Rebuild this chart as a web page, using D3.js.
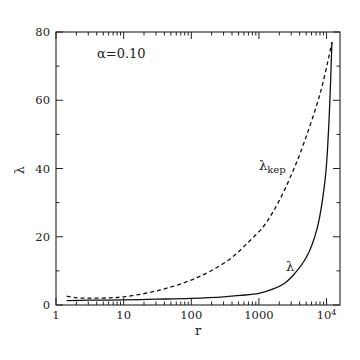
<!DOCTYPE html>
<meta charset="utf-8">
<style>
body { margin: 0; background: #fff; }
text { font-family: "DejaVu Serif", serif; fill: #222; }
.frame { fill: none; stroke: #222; stroke-width: 1.1px; }
</style>
<svg width="360" height="360"></svg>
<script src="https://d3js.org/d3.v7.min.js"></script>
<script>

// values
var rLam = [1.44, 3, 10, 30, 100, 300, 528, 1000, 1630, 2400, 3240, 5100, 7160, 9500, 10700, 12000];
var lam  = [1.26, 1.4, 1.5, 1.7, 1.95, 2.4, 2.8, 3.4, 4.7, 6.4, 8.8, 14.2, 22, 36.6, 51.3, 77];

var rKep   = [1.44, 2, 3, 6.3, 10, 19.6, 34.6, 61, 108, 190, 375, 665, 1167, 1640, 2300, 3240, 4170, 8040, 12000];
var lamKep = [2.6, 2.1, 2.0, 2.1, 2.4, 3.3, 4.4, 5.8, 7.6, 9.9, 13.5, 18, 23, 27.5, 33, 39.6, 45, 62, 77];

var xTicks = [1, 10, 100, 1000, 10000];
var xTickLabels = ["1", "10", "100", "1000", "10"];
var yTicks = [0, 20, 40, 60, 80];

var svg = d3.select("svg"),
    mLeft = 56, mRight = 340, mTop = 32, mBottom = 305;

var x = d3.scaleLog().domain([1, 15800]).range([mLeft, mRight]);
var y = d3.scaleLinear().domain([0, 80]).range([mBottom, mTop]);

var g = svg.append("g");

// minor ticks
var xMinor = [];
for (var d = 1; d <= 10000; d *= 10)
  for (var k = 2; k <= 9; k++) if (d * k < 15800) xMinor.push(d * k);
var yMinor = [10, 30, 50, 70];

function ticksX(vals, len) {
  [[mBottom, -len], [mTop, len]].forEach(function(s) {
    g.selectAll(null).data(vals).enter().append("line")
        .attr("x1", function(d) { return x(d); }).attr("x2", function(d) { return x(d); })
        .attr("y1", s[0]).attr("y2", s[0] + s[1]).attr("stroke", "#222");
  });
}
function ticksY(vals, len) {
  [[mLeft, len], [mRight, -len]].forEach(function(s) {
    g.selectAll(null).data(vals).enter().append("line")
        .attr("y1", function(d) { return y(d); }).attr("y2", function(d) { return y(d); })
        .attr("x1", s[0]).attr("x2", s[0] + s[1]).attr("stroke", "#222");
  });
}
ticksX(xTicks, 7);
ticksX(xMinor, 3.5);
ticksY(yTicks, 7);
ticksY(yMinor, 3.5);

g.append("rect").attr("class", "frame")
    .attr("x", mLeft).attr("y", mTop).attr("width", mRight - mLeft).attr("height", mBottom - mTop);

// tick labels
var xl = g.selectAll(null).data(xTicks).enter().append("text")
    .attr("x", function(d) { return x(d); })
    .attr("y", mBottom + 14)
    .attr("text-anchor", "middle")
    .style("font-size", "11.5px")
    .text(function(d, i) { return xTickLabels[i]; });
xl.filter(function(d) { return d === 10000; })
  .append("tspan").attr("dy", -4).style("font-size", "8px").text("4");

g.selectAll(null).data(yTicks).enter().append("text")
    .attr("x", mLeft - 6)
    .attr("y", function(d) { return y(d) + 4; })
    .attr("text-anchor", "end")
    .style("font-size", "11.5px")
    .text(function(d) { return d; });

// axis titles
g.append("text").attr("x", 198).attr("y", 335).attr("text-anchor", "middle")
    .style("font-size", "13px").text("r");
g.append("text").attr("transform", "translate(24,170) rotate(-90)")
    .attr("text-anchor", "middle").style("font-size", "13px").text("λ");

// curves
var line = d3.line()
    .x(function(d) { return x(d[0]); })
    .y(function(d) { return y(d[1]); })
    .curve(d3.curveCatmullRom.alpha(0.5));

g.append("path").datum(d3.zip(rLam, lam))
    .attr("d", line).attr("fill", "none").attr("stroke", "#111").attr("stroke-width", 1.3);
g.append("path").datum(d3.zip(rKep, lamKep))
    .attr("d", line).attr("fill", "none").attr("stroke", "#111").attr("stroke-width", 1.3)
    .attr("stroke-dasharray", "4,3");

// annotations
g.append("text").attr("x", 97).attr("y", 58).style("font-size", "13px").text("α=0.10");
var lk = g.append("text").attr("x", 259).attr("y", 170).style("font-size", "13px").text("λ");
lk.append("tspan").attr("dy", 3).style("font-size", "10px").text("kep");
g.append("text").attr("x", 286).attr("y", 271).style("font-size", "13px").text("λ");

</script>
